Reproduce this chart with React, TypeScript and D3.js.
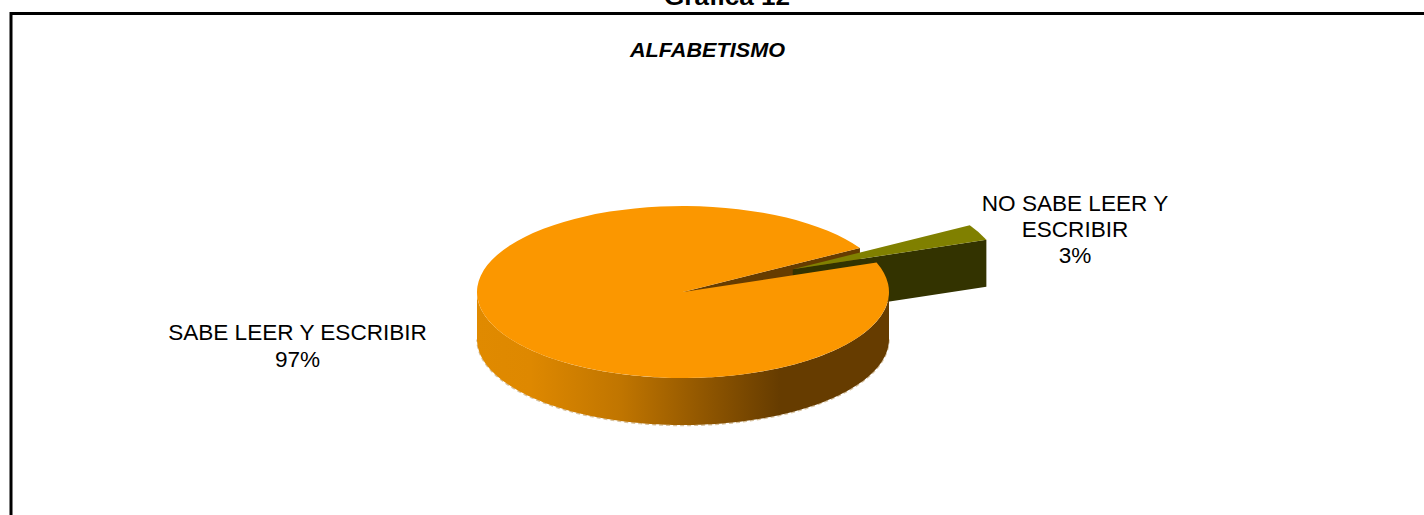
import * as d3 from "d3";

const categories = ["SABE LEER Y ESCRIBIR", "NO SABE LEER Y ESCRIBIR"];
const values = [97, 3];
const labelLines = [
  ["SABE LEER Y ESCRIBIR", "97%"],
  ["NO SABE LEER Y", "ESCRIBIR", "3%"],
];
const topColors = ["#fb9700", "#808000"];
const wallStops = [
  { at: 0, color: "#e08a00" },
  { at: 0.13, color: "#de8800" },
  { at: 0.35, color: "#c07500" },
  { at: 0.54, color: "#935800" },
  { at: 0.735, color: "#663c00" },
  { at: 1, color: "#663c00" },
];

const width = 1424;
const height = 515;
const cx = 683;
const cy = 292;
const rx = 206;
const ry = 86;
const depth = 47;
const explode = 0.59;
const startAngle = (70 * Math.PI) / 180;

const App = () => {
  const slices = d3
    .pie<number>()
    .sort(null)
    .startAngle(startAngle)
    .endAngle(startAngle + 2 * Math.PI)(values);
  const [big, small] = slices;

  // d3 angles run clockwise from 12 o'clock, squash them onto the ellipse
  const px = (a: number, c = cx) => c + rx * Math.sin(a);
  const py = (a: number, c = cy) => c - ry * Math.cos(a);

  const arc = d3.arc<d3.PieArcDatum<number>>().innerRadius(0).outerRadius(rx);
  const squash = `scale(1,${ry / rx})`;

  const mid = (small.startAngle + small.endAngle) / 2;
  const sx = cx + explode * rx * Math.sin(mid);
  const sy = cy - explode * ry * Math.cos(mid) - 1;

  // front wall of the big slice, right to left along the lower half
  const wall = d3
    .area<number>()
    .x((a) => px(a))
    .y0((a) => py(a))
    .y1((a) => py(a) + depth);
  const wallEdge = d3
    .line<number>()
    .x((a) => px(a))
    .y((a) => py(a) + depth + 0.5);
  const wallAngles = d3.range(90, 270.5, 1).map((d) => (d * Math.PI) / 180);

  const cutFace = (a: number, x0: number, y0: number) =>
    d3.line()([
      [x0, y0],
      [px(a, x0), py(a, y0)],
      [px(a, x0), py(a, y0) + depth],
      [x0, y0 + depth],
    ]) + "Z";

  return (
    <svg
      width={width}
      height={height}
      style={{ position: "absolute", left: 0, top: 0, background: "#fff" }}
      fontFamily="'Liberation Sans', Arial, sans-serif"
    >
      <defs>
        <linearGradient id="wallGrad" gradientUnits="userSpaceOnUse" x1={cx - rx} x2={cx + rx} y1={0} y2={0}>
          {wallStops.map((s) => (
            <stop key={s.at} offset={s.at} stopColor={s.color} />
          ))}
        </linearGradient>
      </defs>

      <text x={727} y={5} textAnchor="middle" fontSize={24} fontWeight="bold" textLength={126} lengthAdjust="spacingAndGlyphs">
        Gráfica 12
      </text>
      <path d={`M11,${height}V13.5H${width}`} fill="none" stroke="#000" strokeWidth={3} />
      <text x={707.5} y={57} textAnchor="middle" fontSize={20} fontWeight="bold" fontStyle="italic" textLength={155} lengthAdjust="spacingAndGlyphs">
        ALFABETISMO
      </text>

      {/* inside face of the big slice, seen through the gap */}
      <path d={cutFace(big.endAngle, cx, cy)} fill="#663c00" />

      {/* pulled out slice */}
      <path d={cutFace(small.endAngle, sx, sy)} fill="#333300" />
      <path d={arc(small)!} transform={`translate(${sx},${sy}) ${squash}`} fill={topColors[1]} />

      <path d={wallEdge(wallAngles)!} fill="none" stroke="#d8c3a0" strokeWidth={1.5} strokeDasharray="4 3" />
      <path d={wall(wallAngles)!} fill="url(#wallGrad)" />
      <path d={arc(big)!} transform={`translate(${cx},${cy}) ${squash}`} fill={topColors[0]} />

      <g fontSize={21.5} textAnchor="middle" fill="#000">
        {labelLines[0].map((t, i) => (
          <text key={t} transform={`translate(297.5,${340 + i * 26.5}) scale(1.05,1)`}>
            {t}
          </text>
        ))}
        {labelLines[1].map((t, i) => (
          <text key={t} transform={`translate(1075,${211 + i * 26}) scale(1.05,1)`}>
            {t}
          </text>
        ))}
      </g>
      <title>{categories.join(" / ")}</title>
    </svg>
  );
};

export default App;
